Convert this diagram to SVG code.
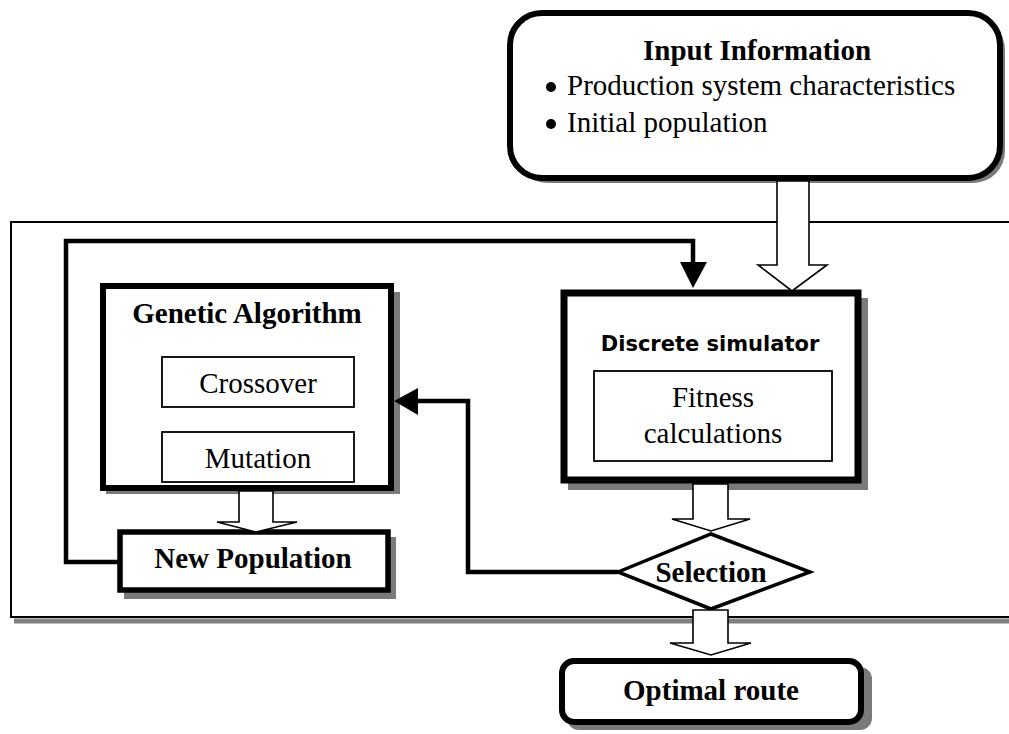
<svg xmlns="http://www.w3.org/2000/svg" width="1009" height="734" viewBox="0 0 1009 734">
<style>
.serif{font-family:"Liberation Serif","Times New Roman",serif;font-size:29px;fill:#000}
.b{font-weight:bold}
.mid{text-anchor:middle}
.sans{font-family:"DejaVu Sans","Liberation Sans",sans-serif;font-size:21px;font-weight:bold;fill:#000}
.box{fill:#fff;stroke:#000}
.shadow{fill:#7a7a7a;stroke:none}
.hollow{fill:#fff;stroke:#000;stroke-width:1.6;stroke-linejoin:miter}
.wire{fill:none;stroke:#000;stroke-width:4.5;stroke-linejoin:miter}
.inner{fill:#fff;stroke:#000;stroke-width:1.8}
</style>
<rect width="1009" height="734" fill="#fff"/>

<g id="container">
  <line x1="14" y1="621" x2="1009" y2="621" stroke="#808080" stroke-width="5"/>
  <rect x="11" y="222" width="1020" height="395" fill="none" stroke="#000" stroke-width="2"/>
</g>

<g id="input-information">
  <rect class="shadow" x="515" y="18" width="490" height="165" rx="32"/>
  <rect class="box" x="510" y="13" width="490" height="165" rx="32" stroke-width="6"/>
  <text class="serif b mid" x="757" y="60">Input Information</text>
  <circle cx="551" cy="87" r="5"/>
  <text class="serif" x="567" y="95">Production system characteristics</text>
  <circle cx="551" cy="124" r="5"/>
  <text class="serif" x="567" y="132">Initial population</text>
</g>

<g id="genetic-algorithm">
  <rect class="shadow" x="106" y="292" width="294" height="202"/>
  <rect class="box" x="103" y="286" width="288" height="202" stroke-width="6"/>
  <text class="serif b mid" x="247" y="323">Genetic Algorithm</text>
  <g id="crossover">
    <rect class="inner" x="162" y="357" width="192" height="50"/>
    <text class="serif mid" x="258" y="393">Crossover</text>
  </g>
  <g id="mutation">
    <rect class="inner" x="162" y="432" width="192" height="50"/>
    <text class="serif mid" x="258" y="468">Mutation</text>
  </g>
</g>

<g id="new-population">
  <rect class="shadow" x="124" y="537" width="272" height="62"/>
  <rect class="box" x="120" y="532" width="268" height="58" stroke-width="5.5"/>
  <text class="serif b mid" x="253" y="568">New Population</text>
</g>

<g id="discrete-simulator">
  <rect class="shadow" x="568" y="298" width="300" height="192"/>
  <rect class="box" x="564" y="293" width="294" height="187" stroke-width="7"/>
  <text class="sans mid" x="710" y="351">Discrete simulator</text>
  <g id="fitness-calculations">
    <rect class="inner" x="594" y="371" width="238" height="90"/>
    <text class="serif mid" x="713" y="407">Fitness</text>
    <text class="serif mid" x="713" y="443">calculations</text>
  </g>
</g>

<g id="selection">
  <polygon points="618,572 711,534 810,572 711,609" fill="#fff" stroke="#000" stroke-width="3.5" stroke-linejoin="miter"/>
  <text class="serif b mid" x="711" y="582">Selection</text>
</g>

<g id="optimal-route">
  <rect class="shadow" x="567" y="667" width="305" height="63" rx="12"/>
  <rect class="box" x="562" y="661" width="299" height="61" rx="12" stroke-width="6"/>
  <text class="serif b mid" x="711" y="700">Optimal route</text>
</g>

<g id="connectors">
  <polyline class="wire" points="118,562 66,562 66,241 693,241 693,264"/>
  <polygon points="680,262 707,262 693,288" fill="#000"/>
  <polyline class="wire" points="618,572 468,572 468,401 416,401"/>
  <polygon points="418,388 418,415 394,401" fill="#000"/>
  <polygon class="hollow" points="777,181 809,181 809,265 827,265 792,291 758,265 777,265"/>
  <polygon class="hollow" points="239,491 273,491 273,522 297,522 256,532 217,522 239,522"/>
  <polygon class="hollow" points="693,484 728,484 728,519 750,519 711,531 672,519 693,519"/>
  <polygon class="hollow" points="693,610 728,610 728,643 751,643 711,655 670,643 693,643"/>
</g>
</svg>
